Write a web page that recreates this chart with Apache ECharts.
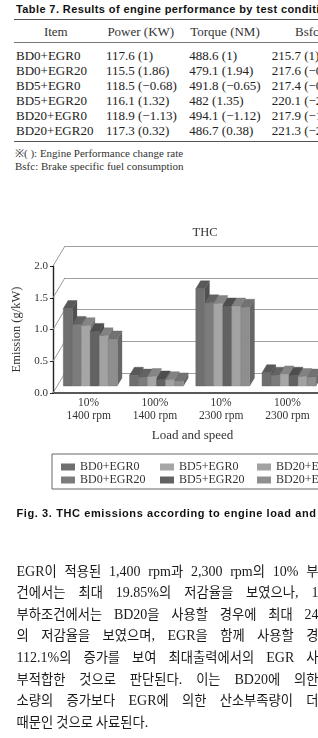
<!DOCTYPE html>
<html>
<head>
<meta charset="utf-8">
<script src="https://cdn.jsdelivr.net/npm/echarts@6/dist/echarts.min.js"></script>
<style>
  html, body { margin: 0; padding: 0; background: #fff; }
  body { width: 318px; height: 738px; overflow: hidden; position: relative; color: #222; }
  .abs { position: absolute; white-space: nowrap; }
  .serif { font-family: "Liberation Serif", "DejaVu Serif", serif; }
  .bold { font-family: "Liberation Sans", Arial, sans-serif; font-weight: bold; color: #111; }
  .rule { position: absolute; left: 14px; width: 320px; background: #555; }
  .para { position: absolute; left: 16.5px; width: 302px; height: 21px; line-height: 21px; overflow: hidden;
          font-family: "Noto Sans CJK KR", sans-serif; font-size: 13.3px;
          text-align: justify; text-align-last: justify; color: #1a1a1a; }
  .para .lat { font-family: "Liberation Serif", serif; font-size: 14px; }
  #chart { position: absolute; left: 0; top: 0; width: 318px; height: 738px; }
</style>
</head>
<body>
<div id="tbl"></div>
<div id="chart"></div>
<div id="txt"></div>
<script>
'use strict'

// table 7
var tableItems = ['BD0+EGR0', 'BD0+EGR20', 'BD5+EGR0', 'BD5+EGR20', 'BD20+EGR0', 'BD20+EGR20'];
var tablePower = ['117.6 (1)', '115.5 (1.86)', '118.5 (\u22120.68)', '116.1 (1.32)', '118.9 (\u22121.13)', '117.3 (0.32)'];
var tableTorque = ['488.6 (1)', '479.1 (1.94)', '491.8 (\u22120.65)', '482 (1.35)', '494.1 (\u22121.12)', '486.7 (0.38)'];
var tableBsfc = ['215.7 (1)', '217.6 (\u22120.88)', '217.4 (\u22120.79)', '220.1 (\u22122.04)', '217.9 (\u22121.02)', '221.3 (\u22122.60)'];

// chart data
var categories = ['10%\n1400 rpm', '100%\n1400 rpm', '10%\n2300 rpm', '100%\n2300 rpm'];
var seriesNames = ['BD0+EGR0', 'BD0+EGR20', 'BD5+EGR0', 'BD5+EGR20', 'BD20+EGR0', 'BD20+EGR20'];
var bd0egr0 = [1.22, 0.17, 1.53, 0.21];
var bd0egr20 = [0.97, 0.14, 1.31, 0.17];
var bd5egr0 = [0.95, 0.15, 1.30, 0.19];
var bd5egr20 = [0.86, 0.11, 1.26, 0.17];
var bd20egr0 = [0.79, 0.10, 1.26, 0.15];
var bd20egr20 = [0.74, 0.08, 1.24, 0.14];
var seriesColors = ['#6f6f6f', '#7c7c7c', '#a6a6a6', '#626262', '#a2a2a2', '#8e8e8e'];
var yTicks = [0, 0.5, 1, 1.5, 2];

var paraLines = [
  'EGR\uc774 \uc801\uc6a9\ub41c 1,400 rpm\uacfc 2,300 rpm\uc758 10% \ubd80',
  '\uac74\uc5d0\uc11c\ub294 \ucd5c\ub300 19.85%\uc758 \uc800\uac10\uc728\uc744 \ubcf4\uc600\uc73c\ub098, 1',
  '\ubd80\ud558\uc870\uac74\uc5d0\uc11c\ub294 BD20\uc744 \uc0ac\uc6a9\ud560 \uacbd\uc6b0\uc5d0 \ucd5c\ub300 24',
  '\uc758 \uc800\uac10\uc728\uc744 \ubcf4\uc600\uc73c\uba70, EGR\uc744 \ud568\uaed8 \uc0ac\uc6a9\ud560 \uacbd',
  '112.1%\uc758 \uc99d\uac00\ub97c \ubcf4\uc5ec \ucd5c\ub300\ucd9c\ub825\uc5d0\uc11c\uc758 EGR \uc0ac',
  '\ubd80\uc801\ud569\ud55c \uac83\uc73c\ub85c \ud310\ub2e8\ub41c\ub2e4. \uc774\ub294 BD20\uc5d0 \uc758\ud55c',
  '\uc18c\ub7c9\uc758 \uc99d\uac00\ubcf4\ub2e4 EGR\uc5d0 \uc758\ud55c \uc0b0\uc18c\ubd80\uc871\ub7c9\uc774 \ub354',
  '\ub54c\ubb38\uc778 \uac83\uc73c\ub85c \uc0ac\ub8cc\ub41c\ub2e4.'
];

function el(parent, cls, text, style) {
  var d = document.createElement('div');
  d.className = cls;
  d.textContent = text;
  d.setAttribute('style', style);
  parent.appendChild(d);
  return d;
}

// ---- table
var tbl = document.getElementById('tbl');
el(tbl, 'abs bold', 'Table 7. Results of engine performance by test conditions', 'left:16px;top:2px;font-size:11px;letter-spacing:0.4px;line-height:14px;');
el(tbl, 'rule', '', 'top:18.5px;height:1.6px;');
el(tbl, 'rule', '', 'top:41.5px;height:0.8px;background:#777;');
el(tbl, 'rule', '', 'top:140.5px;height:1.6px;');
var hdr = [['Item', 55.8], ['Power (KW)', 140.8], ['Torque (NM)', 225]];
hdr.forEach(function (h) {
  el(tbl, 'abs serif', h[0], 'left:' + (h[1] - 60) + 'px;width:120px;text-align:center;top:24px;font-size:13px;line-height:15px;color:#333;');
});
el(tbl, 'abs serif', 'Bsfc (g/kWh)', 'left:295px;top:24px;font-size:13px;line-height:15px;color:#333;');
var colX = [16, 106, 189.3, 271.7];
var cols = [tableItems, tablePower, tableTorque, tableBsfc];
for (var r = 0; r < tableItems.length; r++) {
  for (var c = 0; c < cols.length; c++) {
    el(tbl, 'abs serif', cols[c][r], 'left:' + colX[c] + 'px;top:' + (48 + r * 14.9) + 'px;font-size:13px;line-height:15px;');
  }
}
el(tbl, 'abs serif', '\u203b(   ): Engine Performance change rate', 'left:15px;top:147px;font-size:11px;line-height:13px;color:#333;');
el(tbl, 'abs serif', 'Bsfc: Brake specific fuel consumption', 'left:15px;top:160px;font-size:11px;line-height:13px;color:#333;');

// ---- caption + paragraph
var txt = document.getElementById('txt');
el(txt, 'abs bold', 'Fig. 3. THC emissions according to engine load and speed.', 'left:16.5px;top:506px;font-size:11px;letter-spacing:0.6px;line-height:14px;');
paraLines.forEach(function (line, i) {
  var d = el(txt, 'para', '', 'top:' + (559.5 + i * 21.65) + 'px;');
  d.innerHTML = line.replace(/([A-Za-z0-9.,%]+)/g, '<span class="lat">$1</span>');
  if (i === paraLines.length - 1) d.style.textAlignLast = 'left';
});

// ---- chart
var chart = echarts.init(document.getElementById('chart'), null, { renderer: 'canvas' });
var serif = '"Liberation Serif", serif';
var wallDx = 12, wallDy = -20;     // depth of the floor / side wall
var frontD = 0.35, backD = 0.75;   // bars sit between these depth fractions

function shade(hex, f) {
  var n = parseInt(hex.slice(1), 16);
  var r = Math.round(((n >> 16) & 255) * f), g = Math.round(((n >> 8) & 255) * f), b = Math.round((n & 255) * f);
  return 'rgb(' + r + ',' + g + ',' + b + ')';
}

function barRenderer(k) {
  return function (params, api) {
    var cat = api.value(0), v = api.value(1);
    var base = api.coord([cat, 0]);
    var top = api.coord([cat, v]);
    var band = api.size([1, 0])[0];
    var bw = band * 0.136;
    var fx = wallDx * frontD, fy = wallDy * frontD;
    var ddx = wallDx * (backD - frontD), ddy = wallDy * (backD - frontD);
    var x0 = base[0] + fx - bw * 3 + bw * k, x1 = x0 + bw;
    var yb = base[1] + fy, yt = top[1] + fy;
    var col = seriesColors[k];
    return {
      type: 'group',
      children: [
        { type: 'polygon', shape: { points: [[x1, yb], [x1 + ddx, yb + ddy], [x1 + ddx, yt + ddy], [x1, yt]] },
          style: { fill: shade(col, 0.72) } },
        { type: 'polygon', shape: { points: [[x0, yt], [x0 + ddx, yt + ddy], [x1 + ddx, yt + ddy], [x1, yt]] },
          style: { fill: shade(col, 0.8), stroke: shade(col, 0.7), lineWidth: 0.4 } },
        { type: 'rect', shape: { x: x0, y: yt, width: bw, height: yb - yt },
          style: { fill: col, stroke: shade(col, 0.85), lineWidth: 0.4 } }
      ]
    };
  };
}

var dataSets = [bd0egr0, bd0egr20, bd5egr0, bd5egr20, bd20egr0, bd20egr20];
var barSeries = dataSets.map(function (vals, k) {
  return {
    name: seriesNames[k],
    type: 'custom',
    xAxisIndex: 0,
    yAxisIndex: 0,
    itemStyle: { color: seriesColors[k] },
    renderItem: barRenderer(k),
    data: vals.map(function (v, i) { return [i, v]; }),
    z: 5
  };
});

var wallSeries = {
  type: 'custom',
  xAxisIndex: 0,
  yAxisIndex: 0,
  silent: true,
  z: 1,
  renderItem: function (params, api) {
    var y = api.coord([0, api.value(1)])[1];
    var x = params.coordSys.x;
    return { type: 'line', shape: { x1: x, y1: y, x2: x + wallDx, y2: y + wallDy },
             style: { stroke: '#9a9a9a', lineWidth: 1 } };
  },
  data: yTicks.map(function (t) { return [0, t]; })
};

var legendBase = {
  orient: 'vertical',
  top: 461,
  itemWidth: 14,
  itemHeight: 7,
  itemGap: 1,
  padding: 0,
  icon: 'rect',
  selectedMode: false,
  textStyle: { fontFamily: serif, fontSize: 12, color: '#333', lineHeight: 12 }
};

var option = {
  animation: false,
  title: {
    text: 'THC', left: 205, top: 226, textAlign: 'center', padding: 0,
    textStyle: { fontFamily: serif, fontSize: 12.5, fontWeight: 'normal', color: '#333' }
  },
  legend: [
    Object.assign({}, legendBase, { left: 61, data: [seriesNames[0], seriesNames[1]] }),
    Object.assign({}, legendBase, { left: 160, data: [seriesNames[2], seriesNames[3]] }),
    Object.assign({}, legendBase, { left: 257, data: [seriesNames[4], seriesNames[5]] })
  ],
  grid: [
    { left: 53, top: 266, width: 280, height: 127 },
    { left: 53 + wallDx, top: 266 + wallDy, width: 280, height: 127 }
  ],
  xAxis: [
    {
      type: 'category', gridIndex: 0, data: categories,
      axisLine: { lineStyle: { color: '#222', width: 1.6 } },
      axisTick: { show: false },
      axisLabel: { fontFamily: serif, fontSize: 11.5, color: '#333', lineHeight: 12.5, margin: 4, padding: [0, 0, 0, 5] },
      name: 'Load and speed', nameLocation: 'middle', nameGap: 36,
      nameTextStyle: { fontFamily: serif, fontSize: 13, color: '#333', padding: [0, 0, 0, 14] }
    },
    { type: 'category', gridIndex: 1, data: categories, show: false }
  ],
  yAxis: [
    {
      type: 'value', gridIndex: 0, min: 0, max: 2, interval: 0.5,
      axisLine: { show: true, lineStyle: { color: '#222', width: 1.4 } },
      axisTick: { show: true, length: 3, lineStyle: { color: '#222' } },
      axisLabel: { fontFamily: serif, fontSize: 11, color: '#333', margin: 5,
                   formatter: function (v) { return v.toFixed(1); } },
      splitLine: { show: false },
      name: 'Emission (g/kW)', nameLocation: 'middle', nameGap: 23, nameRotate: 90,
      nameTextStyle: { fontFamily: serif, fontSize: 12.5, color: '#333' }
    },
    {
      type: 'value', gridIndex: 1, min: 0, max: 2, interval: 0.5,
      axisLine: { show: false }, axisTick: { show: false }, axisLabel: { show: false },
      splitLine: { show: true, lineStyle: { color: '#a0a0a0', width: 1 } }
    }
  ],
  graphic: [
    { type: 'rect', shape: { x: 52, y: 454, width: 300, height: 35 },
      style: { fill: 'none', stroke: '#666', lineWidth: 1 } }
  ],
  series: [wallSeries].concat(barSeries)
};

chart.setOption(option);
</script>
</body>
</html>
